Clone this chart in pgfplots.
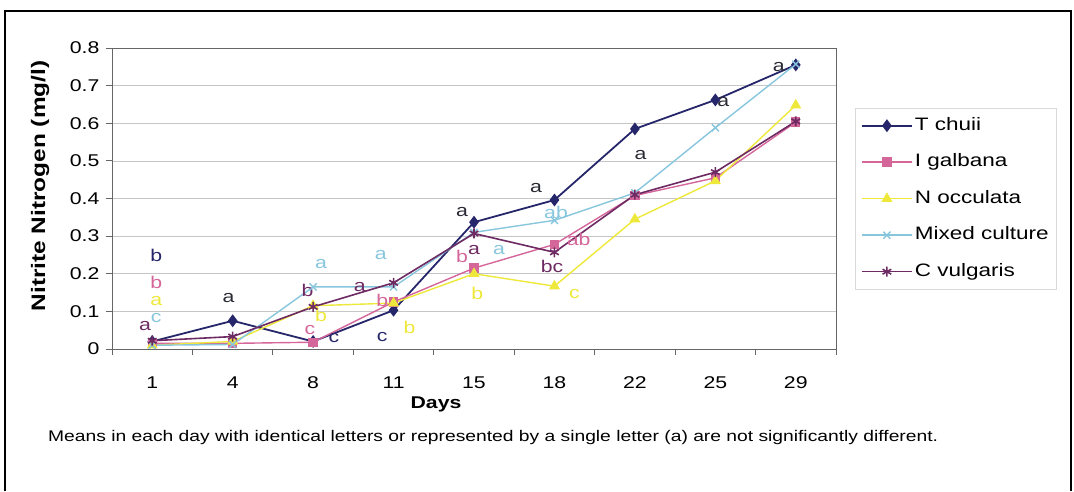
\documentclass[border=0pt]{standalone}
\usepackage{fontspec}
\setmainfont{Liberation Sans}[FakeStretch=1.25]
\usepackage{pgfplots}
\pgfplotsset{compat=1.18}
\definecolor{cT}{HTML}{26266A}
\definecolor{cI}{HTML}{D4669A}
\definecolor{cN}{HTML}{EDE83A}
\definecolor{cM}{HTML}{88C6DD}
\definecolor{cC}{HTML}{6E2A62}
\definecolor{dk}{HTML}{2A2A35}
\begin{document}
\begin{tikzpicture}
\useasboundingbox (0pt,0pt) rectangle (1074pt,491pt);
\draw[line width=2pt] (5pt,0pt) -- (5pt,480pt) -- (1071pt,480pt) -- (1071pt,0pt);
\begin{axis}[
  at={(112pt,142pt)}, anchor=south west, scale only axis,
  width=724pt, height=301pt,
  xmin=-0.5, xmax=8.5, ymin=0, ymax=0.8,
  xtick={0,1,2,3,4,5,6,7,8},
  xticklabels={1,4,8,11,15,18,22,25,29},
  minor xtick={-0.5,0.5,1.5,2.5,3.5,4.5,5.5,6.5,7.5,8.5},
  major x tick style={draw=none},
  minor tick length=6pt,
  ytick={0,0.1,0.2,0.3,0.4,0.5,0.6,0.7,0.8},
  yticklabels={0,0.1,0.2,0.3,0.4,0.5,0.6,0.7,0.8},
  major tick length=6pt,
  tick align=outside, tick pos=left,
  ymajorgrids, grid style={draw=gray!45, line width=0.6pt},
  axis line style={draw=gray!80!black, line width=0.8pt},
  tick style={draw=gray!80!black, line width=0.8pt},
  x tick label style={font=\fontsize{17}{20}\selectfont, yshift=-18pt},
  y tick label style={font=\fontsize{17}{20}\selectfont, xshift=-3pt},
  /pgf/number format/assume math mode=true,
  clip=false,
  legend style={at={(1.026,0.8007)}, anchor=north west, draw=gray!30, fill=white,
    font=\fontsize{18}{20}\selectfont, row sep=15.5pt, inner xsep=6pt, inner ysep=7pt,
    nodes={inner sep=2pt, text height=13pt, text depth=4pt}},
  legend cell align=left,
  legend image code/.code={\draw[mark repeat=2,mark phase=2,#1] plot coordinates {(0pt,0pt) (25pt,0pt) (50pt,0pt)};},
]
\addplot[cT, line width=1.8pt, mark=diamond*, mark size=5pt, mark options={solid, fill=cT}] coordinates {
(0,0.02) (1,0.075) (2,0.02) (3,0.103) (4,0.337) (5,0.396) (6,0.585) (7,0.662) (8,0.755)};
\addlegendentry{T chuii}
\addplot[cI, line width=1.4pt, mark=square*, mark size=4pt, mark options={solid, fill=cI}] coordinates {
(0,0.015) (1,0.015) (2,0.018) (3,0.125) (4,0.215) (5,0.278) (6,0.408) (7,0.455) (8,0.603)};
\addlegendentry{I galbana}
\addplot[cN, line width=1.4pt, mark=triangle*, mark size=5pt, mark options={solid, fill=cN}] coordinates {
(0,0.01) (1,0.02) (2,0.115) (3,0.122) (4,0.2) (5,0.167) (6,0.345) (7,0.447) (8,0.648)};
\addlegendentry{N occulata}
\addplot[cM, line width=1.4pt, mark=x, mark size=5pt, mark options={solid}] coordinates {
(0,0.01) (1,0.012) (2,0.165) (3,0.165) (4,0.31) (5,0.342) (6,0.415) (7,0.588) (8,0.757)};
\addlegendentry{Mixed culture}
\addplot[cC, line width=1.6pt, mark=asterisk, mark size=5pt, mark options={solid}] coordinates {
(0,0.022) (1,0.033) (2,0.112) (3,0.176) (4,0.307) (5,0.257) (6,0.41) (7,0.47) (8,0.605)};
\addlegendentry{C vulgaris}
\begin{scope}[every node/.style={font=\fontsize{17}{19}\selectfont, inner sep=0pt}]
\node[text=cT] at (axis cs:0.05,0.25) {b};
\node[text=cI] at (axis cs:0.05,0.178) {b};
\node[text=cN] at (axis cs:0.05,0.128) {a};
\node[text=cM] at (axis cs:0.05,0.083) {c};
\node[text=cC] at (axis cs:-0.09,0.06) {a};
\node[text=dk] at (axis cs:0.95,0.136) {a};
\node[text=cM] at (axis cs:2.1,0.225) {a};
\node[text=cC] at (axis cs:1.93,0.157) {b};
\node[text=cN] at (axis cs:2.1,0.09) {b};
\node[text=cI] at (axis cs:1.96,0.05) {c};
\node[text=cT] at (axis cs:2.26,0.03) {c};
\node[text=cM] at (axis cs:2.84,0.25) {a};
\node[text=cC] at (axis cs:2.58,0.165) {a};
\node[text=cI] at (axis cs:2.86,0.13) {b};
\node[text=cT] at (axis cs:2.86,0.032) {c};
\node[text=cN] at (axis cs:3.2,0.058) {b};
\node[text=dk] at (axis cs:3.85,0.364) {a};
\node[text=cI] at (axis cs:3.85,0.247) {b};
\node[text=cC] at (axis cs:4.0,0.263) {a};
\node[text=cM] at (axis cs:4.31,0.263) {a};
\node[text=cN] at (axis cs:4.04,0.149) {b};
\node[text=dk] at (axis cs:4.77,0.428) {a};
\node[text=cM] at (axis cs:5.02,0.362) {ab};
\node[text=cI] at (axis cs:5.3,0.29) {ab};
\node[text=cC] at (axis cs:4.97,0.22) {bc};
\node[text=cN] at (axis cs:5.25,0.146) {c};
\node[text=dk] at (axis cs:6.07,0.516) {a};
\node[text=dk] at (axis cs:7.1,0.657) {a};
\node[text=dk] at (axis cs:7.79,0.75) {a};
\end{scope}
\end{axis}
\node[font=\bfseries\fontsize{17}{20}\selectfont] at (436pt,87pt) {Days};
\node[font=\bfseries\fontsize{19.5}{22}\selectfont, rotate=90] at (40pt,305pt) {Nitrite Nitrogen (mg/l)};
\node[font=\fontsize{15.4}{17}\selectfont, anchor=west, inner sep=0pt] at (48pt,53pt) {Means in each day with identical letters or represented by a single letter (a) are not significantly different.};
\end{tikzpicture}
\end{document}
